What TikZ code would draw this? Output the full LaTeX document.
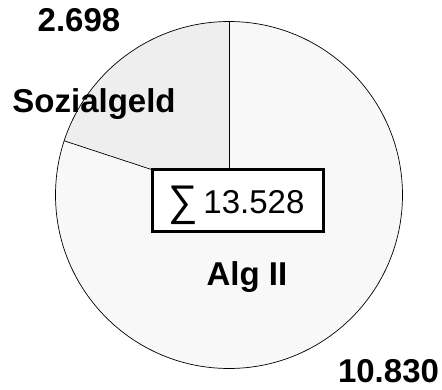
\documentclass[tikz,border=0pt]{standalone}
\usepackage{graphicx}
\usepackage{fontspec}
\setmainfont{Liberation Sans}
\definecolor{sozfill}{HTML}{EEEEEE}
\definecolor{algfill}{HTML}{F8F8F8}
\begin{document}
\begin{tikzpicture}[x=1pt,y=1pt,
  lbl/.style={font=\fontsize{33}{36}\selectfont\bfseries, anchor=base, inner sep=0pt},
  sumlbl/.style={font=\fontsize{33}{36}\selectfont, anchor=base, inner sep=0pt},
  edge/.style={line width=0.7pt, draw=black}]
\useasboundingbox (0,0) rectangle (442,389);
\def\R{173.5}
\coordinate (c) at (229,194);
\fill[algfill] (c) circle (\R);
\fill[sozfill] (c) -- ++(90:\R) arc (90:161.8:\R) -- cycle;
\path (c) ++(90:\R) coordinate (t);
\path (c) ++(161.8:\R) coordinate (s);
\draw[edge] (c) -- (t);
\draw[edge] (c) -- (s);
\draw[edge] (c) circle (\R);
\node[draw, line width=3pt, fill=white, minimum width=171pt, minimum height=61pt, inner sep=0pt] (sumbox) at (237.5,188.5) {};
\node[sumlbl] (sumtext) at (236.5,176) {\raisebox{-3pt}{\scalebox{1.25}[1.3]{∑}}\,13.528};
\node[lbl] (v1) at (79,357) {2.698};
\node[lbl] (n1) at (94,276) {Sozialgeld};
\node[lbl] (n2) at (247,104) {Alg II};
\node[lbl] (v2) at (388.5,7) {10.830};
\end{tikzpicture}
\end{document}
